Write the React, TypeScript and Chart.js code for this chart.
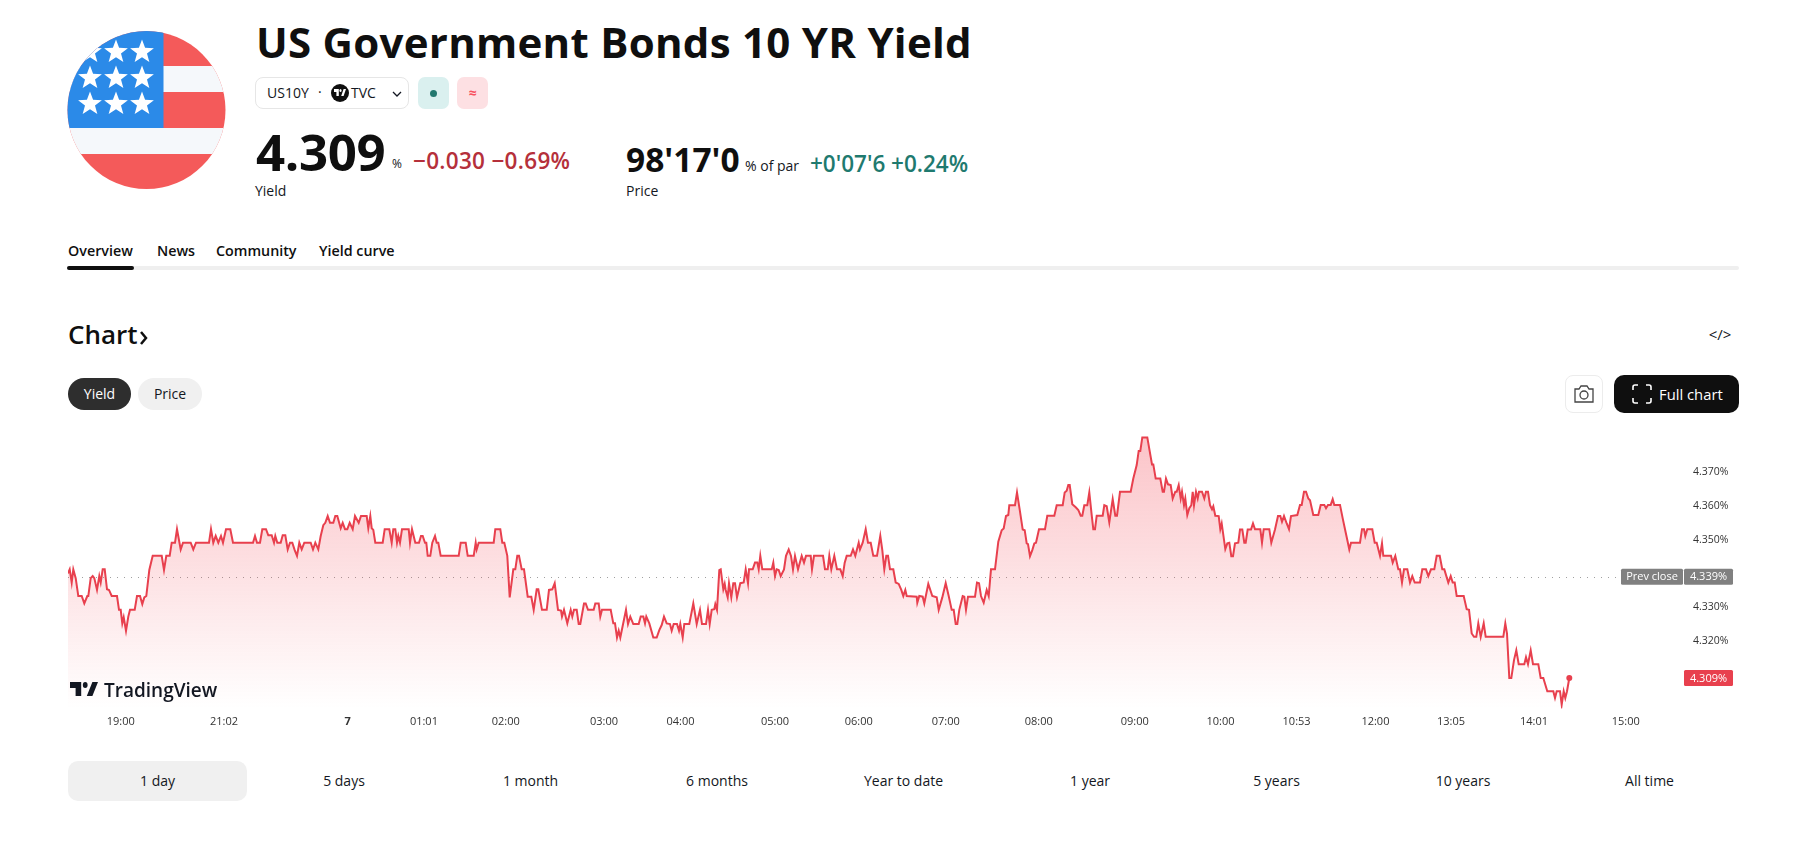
import { useRef, useEffect } from 'react';
import type { CSSProperties, ReactNode } from 'react';
import { Chart, registerables } from 'chart.js';

Chart.register(...registerables);

// position along the session (one bar per pixel-ish, gaps are compressed like on the site) and yield in %
const bars1 = [
  0, 1.7, 3.7, 5.3, 7.7, 10.3, 13.7, 16.3, 19.3, 20.3,
  22.7, 24.7, 26.3, 29, 31.3, 32.7, 34.7, 36.7, 39, 41,
  43.7, 49, 51, 52.7, 54.3, 55.7, 58, 60.3, 62, 66.7,
  69, 72, 74.3, 76.3, 78.3, 81.3, 84.7, 93.7, 96, 98.3,
  101.7, 103.7, 107, 109, 112.7, 115, 122.7, 125.3, 128, 141,
  143, 145.3, 147.7, 150.3, 153, 155, 158, 162.3, 165, 185,
  187, 189, 192, 194.3, 198, 200.3, 203.7, 206, 207.3, 209.3,
  212.7, 214.7, 217.3, 219.7, 222, 224.3, 226.7, 229, 231.3, 233.7,
  236.3, 242.7, 245, 247.3, 250.3, 252.7, 255.3, 257.3, 259.7, 262,
  265.3, 267.3, 269.3, 272.7, 274.7, 277, 279.3, 281.7, 284.7, 287,
  290.7, 293, 298.7, 300.3, 302.3,
];
const yields1 = [
  4.34, 4.3412, 4.3373, 4.3412, 4.3386, 4.3333, 4.3333, 4.3311, 4.3333, 4.3333,
  4.3386, 4.3392, 4.3386, 4.3351, 4.3392, 4.3373, 4.3412, 4.3412, 4.3353, 4.3351,
  4.3333, 4.3333, 4.3292, 4.3292, 4.3252, 4.327, 4.323, 4.3272, 4.3292, 4.3292,
  4.3333, 4.3333, 4.3309, 4.3329, 4.3333, 4.341, 4.3452, 4.3452, 4.341, 4.3452,
  4.3452, 4.3491, 4.3491, 4.3531, 4.3471, 4.3491, 4.3491, 4.3471, 4.3491, 4.3491,
  4.3531, 4.3491, 4.3511, 4.3491, 4.3511, 4.3491, 4.3531, 4.3531, 4.3491, 4.3491,
  4.3511, 4.3491, 4.3491, 4.3531, 4.3531, 4.3513, 4.3513, 4.3491, 4.3511, 4.3491,
  4.3491, 4.3513, 4.3513, 4.3471, 4.3491, 4.3491, 4.3469, 4.3452, 4.3491, 4.3471,
  4.3491, 4.3491, 4.3471, 4.3491, 4.3471, 4.3511, 4.3543, 4.355, 4.357, 4.355,
  4.355, 4.357, 4.357, 4.3534, 4.355, 4.3531, 4.3531, 4.355, 4.3531, 4.357,
  4.355, 4.357, 4.357, 4.3534, 4.357,
];

const bars2 = [
  303.7, 305.3, 307.3, 314.7, 316.7, 321.3, 323.7, 325.3, 327.3, 329,
  330.3, 332, 334, 340.7, 342, 344, 347.3, 351, 353, 354.7,
  357, 358.3, 359.7, 362.3, 364.3, 367, 368.7, 370.3, 372.7, 390.7,
  392.7, 397.7, 399.7, 405.7, 407.7, 408.7, 410.7, 425.7, 427.3, 432.3,
  434.3, 436.3, 439.3, 441.7, 445.3, 447.3, 449.3, 451, 453.7, 456,
  459.7, 463.3, 465.7, 468.7, 470.3, 474, 478.7, 481, 484.3, 486.7,
  490, 493, 494, 496, 499.3, 502.7, 504.3, 506, 508.7, 510.7,
  512.3, 516, 517.7, 520, 525.7, 527.3, 530.7, 532.3, 534, 542.7,
  545.3, 547, 549, 550.7, 552.3, 558, 560, 562.3, 565.3, 570.7,
  572.7, 575.3, 577, 578.3, 581.3, 585.3, 588.7, 591.3, 593.7, 596,
  598.7, 602, 603.7, 605.7, 609, 611, 612.3, 614.7, 616.3, 621.3,
];
const yields2 = [
  4.3534, 4.3529, 4.3491, 4.3491, 4.3531, 4.3531, 4.3491, 4.3531, 4.3531, 4.3491,
  4.3511, 4.3491, 4.3531, 4.3531, 4.3491, 4.3531, 4.3491, 4.3491, 4.3511, 4.3511,
  4.3491, 4.3491, 4.3452, 4.3452, 4.3491, 4.3511, 4.3491, 4.3491, 4.3452, 4.3452,
  4.3491, 4.3491, 4.3452, 4.3452, 4.3491, 4.3471, 4.3491, 4.3491, 4.3531, 4.3531,
  4.3491, 4.3491, 4.3452, 4.3329, 4.3412, 4.3412, 4.3452, 4.3452, 4.3412, 4.3412,
  4.3331, 4.3331, 4.3292, 4.3353, 4.3353, 4.3292, 4.3292, 4.3351, 4.3353, 4.3371,
  4.3292, 4.329, 4.3272, 4.3292, 4.3252, 4.3292, 4.3272, 4.3292, 4.3292, 4.325,
  4.325, 4.3311, 4.3311, 4.3292, 4.3292, 4.3311, 4.3311, 4.3272, 4.3292, 4.3292,
  4.3252, 4.3252, 4.321, 4.323, 4.321, 4.3292, 4.325, 4.3272, 4.325, 4.325,
  4.3272, 4.3272, 4.3252, 4.3272, 4.3252, 4.321, 4.321, 4.3232, 4.3247, 4.3272,
  4.3252, 4.325, 4.323, 4.325, 4.325, 4.323, 4.325, 4.321, 4.325, 4.325,
];

const bars3 = [
  625.3, 628.7, 632, 634, 638, 640, 641.7, 643.7, 646.3, 647.3,
  649, 651.3, 652.7, 655.3, 656.7, 657.7, 659.7, 661, 663.3, 665.3,
  667, 669, 672.3, 675.7, 677.7, 680, 681, 684.7, 687, 689.3,
  690.7, 692.3, 694.3, 703.7, 705.3, 707, 708.7, 710.7, 712.7, 716,
  718, 720.7, 723, 725, 727, 730, 733.7, 736, 738, 742.7,
  744, 746, 755, 757, 759.7, 761.3, 763.3, 766.3, 769, 772.3,
  774.7, 776.7, 778.7, 782.7, 785, 787.3, 790.7, 792, 794.7, 797.7,
  800, 802.7, 805.3, 809, 812.3, 814.3, 816.3, 818.3, 820, 822,
  825.3, 827.7, 830.7, 833.3, 835.3, 837.3, 838.7, 848.7, 849.3, 851.3,
  854.7, 856.3, 860.3, 864.3, 868.7, 870.7, 874.3, 877.7, 880.7, 883.7,
  885.7, 887.7, 889.3, 891.3, 894.7, 896.3, 898, 900, 907, 909,
  911, 913, 915.7, 918.7, 920.7, 923, 927,
];
const yields3 = [
  4.3311, 4.325, 4.3292, 4.325, 4.325, 4.3292, 4.325, 4.3292, 4.3294, 4.3309,
  4.3292, 4.341, 4.3412, 4.3353, 4.3369, 4.3351, 4.3329, 4.3371, 4.3329, 4.3371,
  4.3371, 4.3329, 4.3371, 4.3373, 4.3412, 4.3371, 4.3412, 4.3412, 4.3432, 4.3432,
  4.3412, 4.3452, 4.3412, 4.3412, 4.3432, 4.3392, 4.3412, 4.341, 4.3392, 4.3412,
  4.3452, 4.3471, 4.3452, 4.3412, 4.3452, 4.3412, 4.3452, 4.3432, 4.3452, 4.3452,
  4.3412, 4.3452, 4.3452, 4.3412, 4.3412, 4.3452, 4.3412, 4.3452, 4.3412, 4.3412,
  4.3392, 4.3432, 4.3452, 4.3452, 4.3471, 4.3452, 4.3491, 4.3471, 4.3491, 4.3531,
  4.3491, 4.3491, 4.3452, 4.3452, 4.3511, 4.3469, 4.3412, 4.3452, 4.3452, 4.3412,
  4.3412, 4.3373, 4.3369, 4.3351, 4.3333, 4.3351, 4.3333, 4.3331, 4.3313, 4.3333,
  4.3331, 4.3311, 4.3369, 4.3333, 4.3329, 4.3292, 4.3329, 4.3371, 4.3333, 4.3292,
  4.3292, 4.325, 4.325, 4.3292, 4.3333, 4.3331, 4.3292, 4.3331, 4.3331, 4.3373,
  4.3371, 4.3333, 4.3313, 4.3351, 4.3333, 4.3412, 4.3412,
];

const bars4 = [
  930.3, 933.7, 935.7, 938, 940.3, 941.3, 947, 949, 952, 954.7,
  956.7, 958.7, 960, 962, 964.3, 966.3, 968, 971, 977, 979.3,
  986.3, 988.7, 994.7, 996.7, 998.7, 1000.3, 1001.7, 1004.3, 1007.7, 1010.3,
  1012.7, 1014.3, 1016.3, 1019.3, 1021.3, 1023.7, 1025.3, 1027, 1028.7, 1034.7,
  1036.3, 1038.7, 1041.3, 1044.7, 1047.3, 1049, 1052, 1062.7, 1065.3, 1068.7,
  1070.7, 1072.3, 1074.3, 1079.3, 1084, 1085.3, 1087.7, 1092.3, 1094.7, 1096,
  1098, 1100, 1102.7, 1104.7, 1107.3, 1108.7, 1110.7, 1112.7, 1114, 1116,
  1117.3, 1119.3, 1121.3, 1123.3, 1124.7, 1126, 1128, 1129.7, 1131, 1134,
  1136.3, 1138, 1140, 1142, 1144, 1145.3, 1147.3, 1150.7, 1152.3, 1153.7,
  1157.3, 1159.3, 1161.3, 1163.3, 1165, 1167, 1170.3, 1172, 1174.3, 1176.3,
  1177.7, 1179.7, 1183, 1185, 1187, 1192.3, 1194, 1195.7, 1201.3, 1203.3,
  1207, 1210, 1212.3, 1214, 1216, 1218.7, 1221, 1223,
];
const yields4 = [
  4.3494, 4.3528, 4.3533, 4.357, 4.3573, 4.3602, 4.3602, 4.364, 4.3583, 4.353,
  4.3528, 4.3489, 4.3487, 4.3451, 4.3469, 4.3489, 4.3491, 4.3531, 4.3531, 4.3571,
  4.3571, 4.3602, 4.3602, 4.364, 4.3645, 4.3662, 4.3662, 4.3605, 4.3596, 4.3588,
  4.3571, 4.3571, 4.3602, 4.3602, 4.364, 4.3573, 4.3531, 4.3531, 4.3571, 4.3571,
  4.3602, 4.3599, 4.3551, 4.362, 4.3571, 4.3571, 4.3642, 4.3642, 4.3681, 4.3721,
  4.3763, 4.3763, 4.3803, 4.3803, 4.3723, 4.3723, 4.3681, 4.3681, 4.3642, 4.3642,
  4.3681, 4.3664, 4.3662, 4.3622, 4.3642, 4.3642, 4.3662, 4.3622, 4.3642, 4.3602,
  4.3622, 4.3573, 4.3593, 4.3602, 4.3642, 4.3602, 4.3642, 4.3622, 4.3642, 4.3642,
  4.3622, 4.3642, 4.3642, 4.3602, 4.359, 4.3599, 4.3571, 4.357, 4.3531, 4.3548,
  4.3472, 4.3489, 4.3491, 4.3451, 4.3451, 4.3489, 4.3491, 4.353, 4.353, 4.3491,
  4.3491, 4.353, 4.353, 4.3548, 4.3531, 4.3531, 4.3491, 4.3531, 4.3531, 4.3491,
  4.353, 4.357, 4.357, 4.3553, 4.357, 4.3548, 4.3531, 4.357,
];

const bars5 = [
  1229.3, 1232, 1233.7, 1236, 1238, 1240.3, 1242, 1245.3, 1250.3, 1252.7,
  1256.3, 1258, 1260, 1262.7, 1264.7, 1266.3, 1272, 1274.7, 1277, 1279.3,
  1281.3, 1283, 1292, 1294, 1296, 1297.3, 1299.3, 1304.3, 1306.7, 1308.7,
  1312, 1314, 1315.3, 1323, 1324.7, 1327.3, 1330.3, 1332, 1334, 1336,
  1339.3, 1342, 1344.3, 1346.7, 1352, 1354.3, 1358, 1360.3, 1363, 1366.3,
  1368.7, 1371.7, 1374.3, 1376.3, 1380.3, 1382.7, 1384.7, 1386.7, 1388.7, 1395.7,
  1398.7, 1401, 1403.7, 1406, 1408.3, 1410.3, 1412.7, 1415.7, 1417.7, 1435.3,
  1437.3, 1439, 1441.3, 1443.3, 1446, 1448.3, 1450.7, 1456.3, 1458, 1460,
  1462.7, 1465, 1470.3, 1472.7, 1475.3, 1479.3, 1485.3, 1487, 1488.7, 1492,
  1493.7, 1495.7, 1497.3, 1499, 1501.3,
];
const yields5 = [
  4.3573, 4.3603, 4.3603, 4.3642, 4.3642, 4.3622, 4.3617, 4.3573, 4.3573, 4.3603,
  4.3603, 4.3593, 4.3603, 4.3603, 4.362, 4.3603, 4.3603, 4.3563, 4.3531, 4.3499,
  4.3471, 4.3491, 4.3491, 4.3531, 4.3531, 4.3511, 4.3531, 4.3531, 4.3491, 4.3491,
  4.3452, 4.3489, 4.3452, 4.3452, 4.3432, 4.3452, 4.3412, 4.3412, 4.3373, 4.3412,
  4.3412, 4.3373, 4.3392, 4.3373, 4.3373, 4.3412, 4.3412, 4.3392, 4.3412, 4.3412,
  4.3452, 4.3452, 4.3412, 4.3412, 4.3373, 4.3392, 4.3373, 4.3373, 4.3333, 4.3333,
  4.3294, 4.3292, 4.3222, 4.3212, 4.3212, 4.3252, 4.3212, 4.3252, 4.3212, 4.3212,
  4.3252, 4.3222, 4.309, 4.309, 4.3143, 4.3172, 4.3131, 4.3131, 4.3152, 4.3131,
  4.3172, 4.3131, 4.3131, 4.309, 4.309, 4.3051, 4.3051, 4.3031, 4.3051, 4.3051,
  4.3011, 4.3051, 4.3031, 4.3051, 4.309,
];

const sessionBars = [...bars1, ...bars2, ...bars3, ...bars4, ...bars5];
const sessionYields = [...yields1, ...yields2, ...yields3, ...yields4, ...yields5];

const xTickBars = [52.8, 156, 279.7, 355.9, 437.8, 536, 612.5, 707, 790.8, 877.7, 970.7, 1066.7, 1152.5, 1228.6, 1307.4, 1383, 1466, 1557.7];
const xTickLabels = ['19:00', '21:02', '7', '01:01', '02:00', '03:00', '04:00', '05:00', '06:00', '07:00', '08:00', '09:00', '10:00', '10:53', '12:00', '13:05', '14:01', '15:00'];
const yTickValues = [4.32, 4.33, 4.35, 4.36, 4.37];
const prevClose = 4.339;
const lastYield = 4.309;

const rangeLabels = ['1 day', '5 days', '1 month', '6 months', 'Year to date', '1 year', '5 years', '10 years', 'All time'];
const tabLabels = ['Overview', 'News', 'Community', 'Yield curve'];
const tabLefts = [68, 157, 216, 319];

const FONT = '"Open Sans", sans-serif';
const RED = '#e8404e';

// boxes on the price axis + the dotted previous close line
const priceLabels = {
  id: 'priceLabels',
  beforeDatasetsDraw(chart: any) {
    const { ctx, chartArea, scales } = chart;
    const y = scales.y.getPixelForValue(prevClose);
    ctx.save();
    ctx.strokeStyle = '#a0a0a0';
    ctx.lineWidth = 1;
    ctx.setLineDash([1, 6]);
    ctx.beginPath();
    ctx.moveTo(chartArea.left, Math.round(y) + 0.5);
    ctx.lineTo(chartArea.right - 63, Math.round(y) + 0.5);
    ctx.stroke();
    ctx.restore();
  },
  afterDraw(chart: any) {
    const { ctx, chartArea, scales } = chart;
    const r = chartArea.right;
    const box = (left: number, w: number, value: number, bg: string, text: string) => {
      const y = scales.y.getPixelForValue(value);
      ctx.fillStyle = bg;
      ctx.beginPath();
      ctx.roundRect(left, y - 8, w, 16, 1.5);
      ctx.fill();
      ctx.fillStyle = '#ffffff';
      ctx.font = `11px ${FONT}`;
      ctx.textAlign = 'center';
      ctx.textBaseline = 'middle';
      ctx.fillText(text, left + w / 2, y + 0.5);
    };
    ctx.save();
    box(r - 63, 62, prevClose, '#808080', 'Prev close');
    box(r, 49, prevClose, '#808080', prevClose.toFixed(3) + '%');
    box(r, 49, lastYield, RED, lastYield.toFixed(3) + '%');
    ctx.restore();
  },
};

// chart.js reserves room for half of the outer tick labels, the plot has to fill the whole box here
function noScalePadding(scale: any) {
  scale.paddingTop = 0;
  scale.paddingBottom = 0;
  scale.paddingLeft = 0;
  scale.paddingRight = 0;
}

function YieldChart() {
  const canvasRef = useRef<HTMLCanvasElement>(null);

  useEffect(() => {
    const canvas = canvasRef.current;
    if (!canvas) return;
    const lastIndex = sessionBars.length - 1;
    const chart = new Chart(canvas, {
      type: 'line',
      data: {
        datasets: [{
          data: sessionBars.map((bar, i) => ({ x: bar, y: sessionYields[i] })),
          borderColor: RED,
          borderWidth: 2,
          tension: 0,
          fill: 'start',
          backgroundColor: (ctx: any) => {
            const area = ctx.chart.chartArea;
            if (!area) return 'rgba(242,54,69,0.1)';
            const g = ctx.chart.ctx.createLinearGradient(0, area.top, 0, area.bottom);
            g.addColorStop(0, 'rgba(242,54,69,0.3)');
            g.addColorStop(1, 'rgba(242,54,69,0)');
            return g;
          },
          pointRadius: (ctx: any) => (ctx.dataIndex === lastIndex ? 3 : 0),
          pointBackgroundColor: RED,
          pointBorderWidth: 0,
        }],
      },
      options: {
        animation: false,
        responsive: false,
        events: [],
        layout: { padding: 0, autoPadding: false },
        plugins: { legend: { display: false }, tooltip: { enabled: false } },
        scales: {
          x: {
            type: 'linear',
            min: 0,
            max: 1616,
            border: { display: false },
            grid: { display: false, drawTicks: false },
            afterFit: (scale: any) => { scale.height = 31.6; noScalePadding(scale); },
            afterBuildTicks: (scale: any) => { scale.ticks = xTickBars.map((value) => ({ value })); },
            ticks: {
              autoSkip: false,
              maxRotation: 0,
              padding: 7,
              color: '#333333',
              font: (ctx: any) => ({ family: FONT, size: 11, weight: xTickLabels[ctx.index] === '7' ? 'bold' : 'normal' }),
              callback: (_v: any, index: number) => xTickLabels[index],
            },
          },
          y: {
            position: 'right',
            min: 4.3,
            max: 4.3825,
            border: { display: false },
            grid: { display: false, drawTicks: false },
            afterFit: (scale: any) => { scale.width = 56; noScalePadding(scale); },
            afterBuildTicks: (scale: any) => { scale.ticks = yTickValues.map((value) => ({ value })); },
            ticks: {
              padding: 9,
              color: '#333333',
              font: { family: FONT, size: 10.5 },
              callback: (v: any) => Number(v).toFixed(3) + '%',
            },
          },
        },
      },
      plugins: [priceLabels],
    } as any);
    return () => {
      chart.destroy();
    };
  }, []);

  return <canvas ref={canvasRef} width={1672} height={310} style={{ position: 'absolute', left: 68, top: 430 }} />;
}

function Txt({ x, y, size, weight = 400, color = '#131722', spacing, center, children }: {
  x: number, y: number, size: number, weight?: number, color?: string, spacing?: number, center?: boolean, children: ReactNode
}) {
  const style: CSSProperties = {
    position: 'absolute', left: x, top: y, fontSize: size, fontWeight: weight, color, letterSpacing: spacing,
    fontFamily: FONT, lineHeight: 1, whiteSpace: 'nowrap',
    transform: center ? 'translate(-50%,-50%)' : 'translateY(-50%)',
  };
  return <div style={style}>{children}</div>;
}

function Box({ x, y, w, h, bg, radius = 0, border }: { x: number, y: number, w: number, h: number, bg?: string, radius?: number, border?: string }) {
  return <div style={{ position: 'absolute', left: x, top: y, width: w, height: h, background: bg, borderRadius: radius, border, boxSizing: 'border-box' }} />;
}

function starPoints(cx: number, cy: number, r: number) {
  const pts: string[] = [];
  for (let i = 0; i < 10; i++) {
    const a = -Math.PI / 2 + (i * Math.PI) / 5;
    const rad = i % 2 === 0 ? r : r * 0.42;
    pts.push(`${cx + rad * Math.cos(a)},${cy + rad * Math.sin(a)}`);
  }
  return pts.join(' ');
}

function Flag() {
  const stars = [52, 78, 104].flatMap((cy) => [90, 116, 142].map((cx) => [cx, cy]));
  return (
    <svg width={1818} height={200} style={{ position: 'absolute', left: 0, top: 0 }}>
      <clipPath id="flagClip"><circle cx={146.5} cy={110} r={79} /></clipPath>
      <g clipPath="url(#flagClip)">
        <rect x={60} y={25} width={170} height={170} fill="#f45a5a" />
        <rect x={60} y={66} width={170} height={26} fill="#f5f8fb" />
        <rect x={60} y={128} width={170} height={26} fill="#f5f8fb" />
        <rect x={60} y={25} width={103.5} height={103} fill="#2b8ae8" />
        {stars.map(([cx, cy]) => <polygon key={`${cx}-${cy}`} points={starPoints(cx, cy, 12.5)} fill="#ffffff" />)}
      </g>
    </svg>
  );
}

function Logo({ x, y, w, h, fill }: { x: number, y: number, w: number, h: number, fill: string }) {
  return (
    <svg width={w} height={h} viewBox="0 6 35 14" preserveAspectRatio="none" style={{ position: 'absolute', left: x, top: y }} fill={fill}>
      <path d="M14 6H0v6h7v8h7V6zM28 20h-7l7-14h7l-7 14z" />
      <circle cx={19} cy={9} r={3} />
    </svg>
  );
}

export default function App() {
  return (
    <div style={{ position: 'absolute', left: 0, top: 0, width: 1818, height: 842, overflow: 'hidden', background: '#ffffff' }}>
      <Flag />
      <Txt x={256} y={42} size={42} weight={700} color="#0f0f0f" spacing={0.27}>US Government Bonds 10 YR Yield</Txt>

      <Box x={255} y={77} w={154} h={32} radius={8} border="1px solid #e6e6e6" />
      <Txt x={267} y={93} size={14}>US10Y</Txt>
      <Txt x={318} y={92} size={14}>·</Txt>
      <div style={{ position: 'absolute', left: 331, top: 84, width: 18, height: 18, borderRadius: 9, background: '#0f0f0f' }} />
      <Logo x={334} y={89} w={12} h={7} fill="#ffffff" />
      <Txt x={351} y={93} size={14}>TVC</Txt>
      <svg width={12} height={8} style={{ position: 'absolute', left: 391, top: 90 }} fill="none" stroke="#131722" strokeWidth={1.3}>
        <path d="M2 2l4 4 4-4" />
      </svg>
      <Box x={418} y={77} w={31} h={32} radius={7} bg="#daf0ef" />
      <div style={{ position: 'absolute', left: 430, top: 90, width: 7, height: 7, borderRadius: 4, background: '#22786e' }} />
      <Box x={457} y={77} w={31} h={32} radius={7} bg="#fde0e3" />
      <Txt x={472.5} y={93} size={14} weight={700} color="#f7525f" center>≈</Txt>

      <Txt x={256} y={151} size={51} weight={700} color="#0f0f0f" spacing={-0.4}>4.309</Txt>
      <Txt x={392} y={164} size={12}>%</Txt>
      <Txt x={413} y={161} size={22.5} weight={600} color="#b5303b" spacing={0.3}>−0.030 −0.69%</Txt>
      <Txt x={255} y={191} size={14}>Yield</Txt>
      <Txt x={626} y={160} size={33.5} weight={700} color="#0f0f0f">98'17'0</Txt>
      <Txt x={745} y={166} size={14}>% of par</Txt>
      <Txt x={810} y={164} size={22.5} weight={600} color="#1f7a6f">+0'07'6 +0.24%</Txt>
      <Txt x={626} y={191} size={14}>Price</Txt>

      {tabLabels.map((label, i) => <Txt key={label} x={tabLefts[i]} y={251} size={14.3} weight={600} color="#0f0f0f">{label}</Txt>)}
      <Box x={67} y={266} w={1672} h={4} bg="#efefef" radius={2} />
      <Box x={67} y={266} w={67} h={4} bg="#0f0f0f" radius={2} />

      <Txt x={68} y={334} size={26} weight={600} color="#0f0f0f">Chart</Txt>
      <svg width={10} height={16} style={{ position: 'absolute', left: 139, top: 330 }} fill="none" stroke="#0f0f0f" strokeWidth={2.5}>
        <path d="M2 2l5 6-5 6" />
      </svg>
      <Txt x={1720} y={334} size={15} center>{'</>'}</Txt>

      <Box x={68} y={378} w={63} h={32} radius={16} bg="#2e2e2e" />
      <Txt x={99.5} y={393.5} size={14} color="#ffffff" center>Yield</Txt>
      <Box x={138} y={378} w={64} h={32} radius={16} bg="#f0f0f0" />
      <Txt x={170} y={393.5} size={14} center>Price</Txt>

      <Box x={1565} y={375} w={38} h={38} radius={8} border="1px solid #ececec" />
      <svg width={22} height={20} style={{ position: 'absolute', left: 1573, top: 384 }} fill="none" stroke="#444" strokeWidth={1.3}>
        <path d="M2 5h4l2-3h6l2 3h4v13H2z" />
        <circle cx={11} cy={11} r={4} />
      </svg>
      <Box x={1614} y={375} w={125} h={38} radius={10} bg="#0f0f0f" />
      <svg width={22} height={22} style={{ position: 'absolute', left: 1631, top: 383 }} fill="none" stroke="#fff" strokeWidth={1.6}>
        <path d="M2 7V4a2 2 0 0 1 2-2h3M15 2h3a2 2 0 0 1 2 2v3M20 15v3a2 2 0 0 1-2 2h-3M7 20H4a2 2 0 0 1-2-2v-3" />
      </svg>
      <Txt x={1659} y={394} size={14.8} weight={500} color="#ffffff">Full chart</Txt>

      <YieldChart />
      <Logo x={70} y={682} w={28} h={14} fill="#131722" />
      <Txt x={104} y={690} size={19} weight={600} color="#131722">TradingView</Txt>

      <Box x={68} y={761} w={179} h={40} radius={10} bg="#f0f0f0" />
      {rangeLabels.map((label, i) => <Txt key={label} x={157.5 + i * 186.5} y={781} size={14} center>{label}</Txt>)}
    </div>
  );
}
